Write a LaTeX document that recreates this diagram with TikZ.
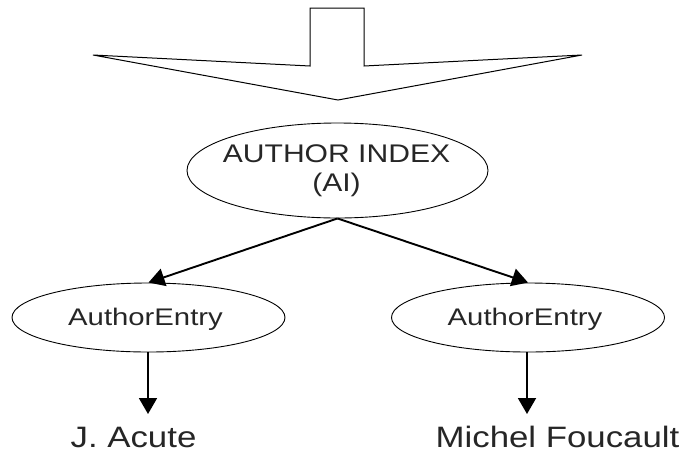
\documentclass[tikz,border=0pt]{standalone}
\usepackage{fontspec}
\setmainfont{Liberation Sans}
\usetikzlibrary{shapes.geometric,arrows.meta}
\begin{document}
\begin{tikzpicture}[x=1pt,y=-1pt,
  ell/.style={draw, ellipse, inner sep=0pt, line width=0.9pt},
  conn/.style={line width=1.9pt, -{Triangle[length=16pt,width=18pt]}},
  txt/.style={inner sep=0pt, text=black!85},
  lbl/.style={inner sep=0pt, anchor=base, text=black!85},
]
\useasboundingbox (0,0) rectangle (692,453);
% big down arrow
\draw[line width=1pt, line join=miter]
  (310,8) -- (364,8) -- (364,66) -- (582,55) -- (338,100) -- (93,55) -- (310,66) -- cycle;
% ellipses
\node[ell, minimum width=301pt, minimum height=95pt] (ai) at (337.5,170.5) {};
\node[txt, align=center, font=\fontsize{25.5}{29}\selectfont] (aitext) at (336.5,171)
  {\scalebox{1.18}[1]{AUTHOR INDEX}\\\scalebox{1.18}[1]{(AI)}};
\node[ell, minimum width=273pt, minimum height=69pt] (le) at (148.5,317.5) {};
\node[ell, minimum width=273pt, minimum height=69pt] (re) at (528,317.5) {};
\node[txt, font=\fontsize{24}{28}\selectfont] (letext) at (145.5,319) {\scalebox{1.22}[1]{AuthorEntry}};
\node[txt, font=\fontsize{24}{28}\selectfont] (retext) at (525,319) {\scalebox{1.22}[1]{AuthorEntry}};
% connectors
\draw[conn] (ai.south) -- (le.north);
\draw[conn] (ai.south) -- (re.north);
\coordinate (lt) at (148,414);
\coordinate (rt) at (527,414);
\draw[conn] (le.south -| lt) -- (lt);
\draw[conn] (re.south -| rt) -- (rt);
% labels
\node[lbl, font=\fontsize{29.5}{34}\selectfont] (jl) at (133.5,447) {\scalebox{1.18}[1]{J. Acute}};
\node[lbl, font=\fontsize{29.5}{34}\selectfont] (ml) at (557.5,447.5) {\scalebox{1.18}[1]{Michel Foucault}};
\end{tikzpicture}
\end{document}
